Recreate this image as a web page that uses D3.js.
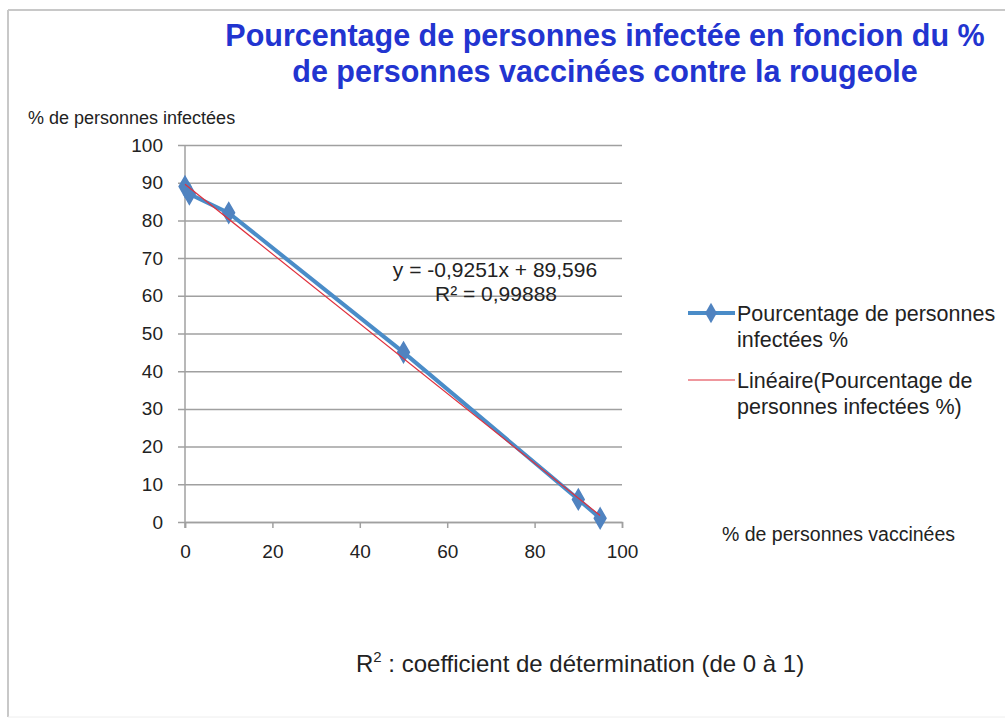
<!DOCTYPE html>
<html>
<head>
<meta charset="utf-8">
<script src="https://cdn.jsdelivr.net/npm/d3@7"></script>
<style>
  body { margin: 0; background: #fff; }
  svg { display: block; font-family: "Liberation Sans", Arial, sans-serif; }
</style>
</head>
<body>
<svg id="chart" width="1005" height="722"></svg>
<script>
const vaccinated = [0, 1, 10, 50, 90, 95];
const infected = [89, 87, 82, 45, 6, 1];
const xTicks = [0, 20, 40, 60, 80, 100];
const yTicks = [0, 10, 20, 30, 40, 50, 60, 70, 80, 90, 100];
const trendSlope = -0.9251;
const trendIntercept = 89.596;
const titleLines = [
  "Pourcentage de personnes infectée en foncion du %",
  "de personnes vaccinées contre la rougeole",
];
const legendLines = [
  ["Pourcentage de personnes", "infectées %"],
  ["Linéaire(Pourcentage de", "personnes infectées %)"],
];

const svg = d3.select("#chart");
const plot = { left: 185, right: 622, top: 145, bottom: 522 };

const x = d3.scaleLinear().domain([0, 100]).range([plot.left, plot.right]);
const y = d3.scaleLinear().domain([0, 100]).range([plot.bottom, plot.top]);

// outer frame (top + left edges visible in the screenshot)
svg.append("line").attr("x1", 8).attr("x2", 1005).attr("y1", 10).attr("y2", 10)
  .attr("stroke", "#c8c8c8").attr("stroke-width", 2);
svg.append("line").attr("x1", 8).attr("x2", 8).attr("y1", 10).attr("y2", 717)
  .attr("stroke", "#c8c8c8").attr("stroke-width", 2);
svg.append("line").attr("x1", 8).attr("x2", 1005).attr("y1", 717).attr("y2", 717)
  .attr("stroke", "#eeeeee").attr("stroke-width", 1);

const title = svg.append("text")
  .attr("text-anchor", "middle")
  .attr("fill", "#2234d0")
  .attr("font-weight", "bold")
  .attr("font-size", 30.5);
titleLines.forEach((line, i) => {
  title.append("tspan").attr("x", 605).attr("y", 46 + i * 36).text(line);
});

// grid + y axis
const yAxis = d3.axisLeft(y).tickValues(yTicks).tickSize(-(plot.right - plot.left)).tickPadding(22);
const yg = svg.append("g").attr("transform", `translate(${plot.left},0)`).call(yAxis);
yg.select(".domain").remove();
yg.selectAll(".tick line").attr("stroke", "#a0a0a0").attr("stroke-width", 1.5).attr("x1", -7);
yg.selectAll(".tick text").attr("font-size", 19).attr("fill", "#222")
  .attr("font-family", "Liberation Sans, Arial, sans-serif");

const xAxis = d3.axisBottom(x).tickValues(xTicks).tickSize(6).tickPadding(17);
const xg = svg.append("g").attr("transform", `translate(0,${plot.bottom})`).call(xAxis);
xg.select(".domain").attr("stroke", "#a0a0a0").attr("stroke-width", 1.5);
xg.selectAll(".tick line").attr("stroke", "#a0a0a0").attr("stroke-width", 1.5);
xg.selectAll(".tick text").attr("font-size", 19).attr("fill", "#222")
  .attr("font-family", "Liberation Sans, Arial, sans-serif");

svg.append("line").attr("x1", plot.left).attr("x2", plot.left)
  .attr("y1", plot.top).attr("y2", plot.bottom + 6)
  .attr("stroke", "#a0a0a0").attr("stroke-width", 1.5);

// axis titles
svg.append("text").attr("x", 28).attr("y", 124).attr("font-size", 18).attr("fill", "#222")
  .text("% de personnes infectées");
svg.append("text").attr("x", 722).attr("y", 541).attr("font-size", 19.5).attr("fill", "#222")
  .text("% de personnes vaccinées");

// data series
const points = vaccinated.map((v, i) => ({ x: v, y: infected[i] }));
const line = d3.line().x((d) => x(d.x)).y((d) => y(d.y));
svg.append("path").datum(points).attr("d", line)
  .attr("fill", "none").attr("stroke", "#4a8cc8").attr("stroke-width", 4);

const diamond = d3.symbol().type(d3.symbolDiamond).size(120);
svg.selectAll("path.marker").data(points).join("path")
  .attr("class", "marker")
  .attr("d", diamond)
  .attr("transform", (d) => `translate(${x(d.x)},${y(d.y)})`)
  .attr("fill", "#5083c0").attr("stroke", "#5083c0").attr("stroke-width", 1.5);

// linear trend line
const xExtent = d3.extent(vaccinated);
const trend = xExtent.map((v) => ({ x: v, y: trendSlope * v + trendIntercept }));
svg.append("path").datum(trend).attr("d", line)
  .attr("fill", "none").attr("stroke", "#e0303c").attr("stroke-width", 1.2);

// equation label
const eq = svg.append("text").attr("text-anchor", "middle").attr("font-size", 21).attr("fill", "#222");
eq.append("tspan").attr("x", 495).attr("y", 277).text("y = -0,9251x + 89,596");
eq.append("tspan").attr("x", 496).attr("y", 301).text("R² = 0,99888");

// legend
const legend = svg.append("g");
legend.append("line").attr("x1", 688).attr("x2", 735).attr("y1", 313).attr("y2", 313)
  .attr("stroke", "#4a8cc8").attr("stroke-width", 4);
legend.append("path").attr("d", diamond).attr("transform", "translate(711,313)")
  .attr("fill", "#5083c0");
legend.append("line").attr("x1", 688).attr("x2", 735).attr("y1", 380).attr("y2", 380)
  .attr("stroke", "#e0303c").attr("stroke-width", 1.2);
legendLines.forEach((lines, i) => {
  const t = legend.append("text").attr("font-size", 21.5).attr("fill", "#222");
  lines.forEach((l, j) => {
    t.append("tspan").attr("x", 737).attr("y", 321 + i * 67 + j * 26).text(l);
  });
});

// footnote
const note = svg.append("text").attr("x", 356).attr("y", 672).attr("font-size", 24).attr("fill", "#222");
note.append("tspan").text("R");
note.append("tspan").attr("font-size", 15).attr("dy", -10).text("2");
note.append("tspan").attr("dy", 10).text(" : coefficient de détermination (de 0 à 1)");
</script>
</body>
</html>
